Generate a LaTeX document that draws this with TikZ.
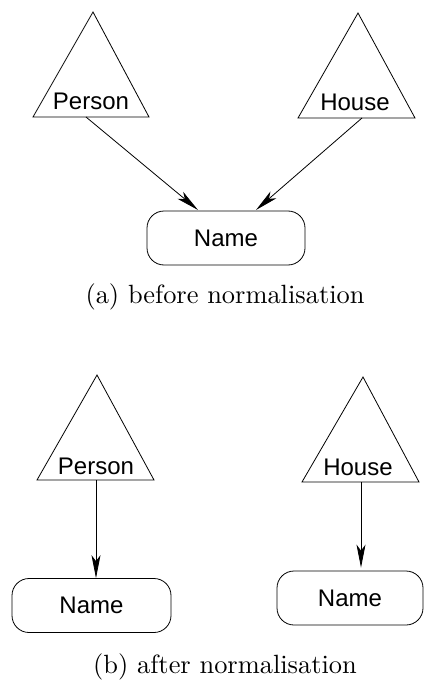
\documentclass[tikz,border=0pt]{standalone}
\usepackage{fontspec}
\newfontfamily\labelfont{Liberation Sans}
\newfontfamily\capfont{lmroman10-regular.otf}
\usetikzlibrary{arrows.meta}
\tikzset{
  entity/.style={draw=black, line width=0.8pt, line join=miter},
  lbl/.style={font=\labelfont\fontsize{24}{28}\selectfont, inner sep=0pt, anchor=base},
  namebox/.style={draw=black, line width=0.8pt, rounded corners=17pt, minimum height=54pt, inner sep=0pt, font=\labelfont\fontsize{24}{28}\selectfont},
  link/.style={draw=black, line width=0.8pt, -{Stealth[length=23pt, width=9pt, inset=6pt]}},
  caption/.style={font=\capfont\fontsize{26.4}{30}\selectfont, inner sep=0pt}
}
\begin{document}
\begin{tikzpicture}[x=1pt, y=-1pt]
\useasboundingbox (0,0) rectangle (424,687);

% (a) before normalisation
\draw[entity] (93,12) -- (149,117) -- (33,117) -- cycle;
\node[lbl] (personA) at (91,110) {Person};
\coordinate (personAout) at (86,117);
\draw[entity] (358,13) -- (415,118) -- (298,118) -- cycle;
\node[lbl] (houseA) at (355,111) {House};
\coordinate (houseAout) at (362,118);
\node[namebox, minimum width=158pt] (nameA) at (226,238) {Name};
\coordinate (nameAinL) at (198,210);
\coordinate (nameAinR) at (256,210);
\draw[link] (personAout) -- (nameAinL);
\draw[link] (houseAout) -- (nameAinR);
\node[caption] (capA) at (225,297) {(a) before normalisation};

% (b) after normalisation
\draw[entity] (97,375) -- (154,480) -- (37,480) -- cycle;
\node[lbl] (personB) at (96,474) {Person};
\coordinate (personBout) at (96,480);
\draw[entity] (363,377) -- (419,482) -- (302,482) -- cycle;
\node[lbl] (houseB) at (358,475) {House};
\coordinate (houseBout) at (361,482);
\node[namebox, minimum width=159pt] (nameB1) at (91.5,605.5) {Name};
\node[namebox, minimum width=146pt] (nameB2) at (350,598) {Name};
\draw[link] (personBout) -- (nameB1.north -| personBout);
\draw[link] (houseBout) -- ([yshift=3pt]nameB2.north -| houseBout);
\node[caption] (capB) at (225,667) {(b) after normalisation};
\end{tikzpicture}
\end{document}
